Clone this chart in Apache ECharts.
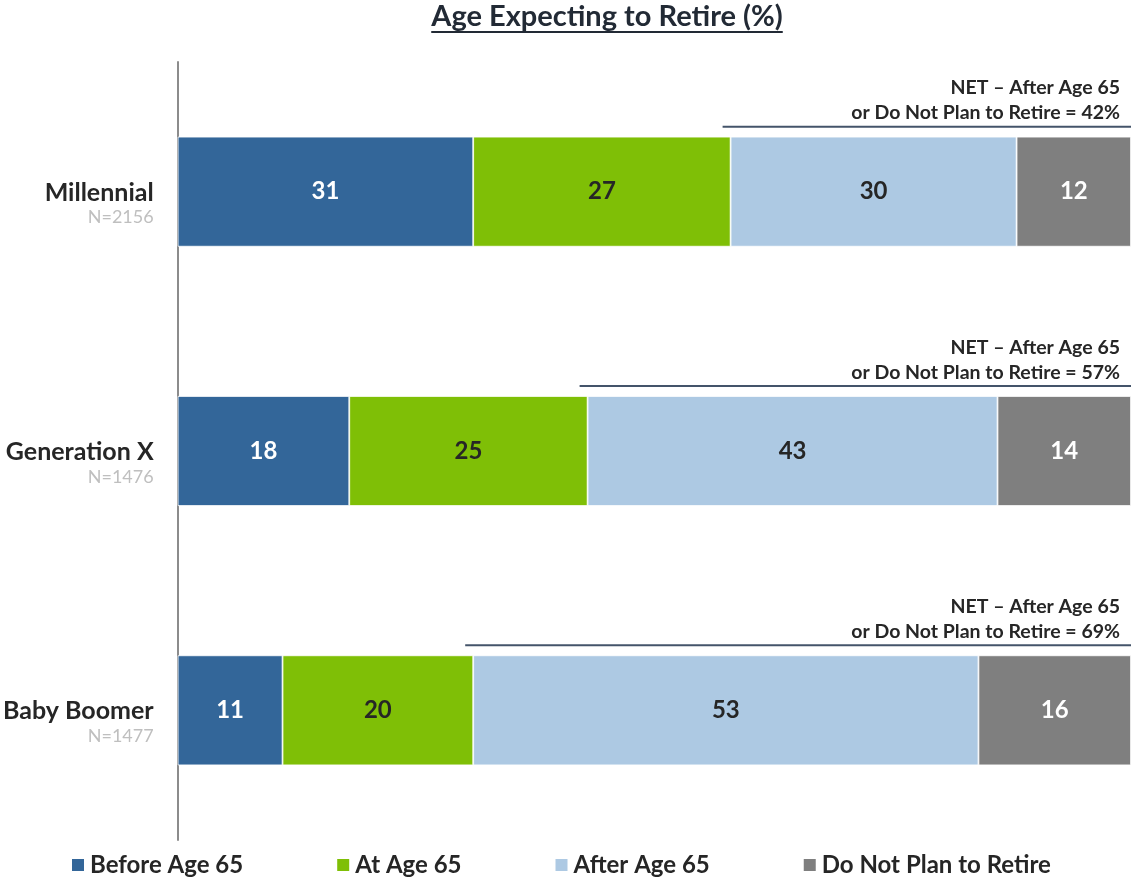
<!DOCTYPE html>
<html>
<head>
<meta charset="utf-8">
<script src="https://cdn.jsdelivr.net/npm/echarts@6/dist/echarts.min.js"></script>
<style>
  html, body { margin: 0; padding: 0; background: #fff; }
  #main { width: 1133px; height: 879px; }
</style>
</head>
<body>
<div id="main"></div>
<script>
// generations, top to bottom
const generations = ['Millennial', 'Generation X', 'Baby Boomer'];
const sampleSizes = ['N=2156', 'N=1476', 'N=1477'];

const seriesNames = ['Before Age 65', 'At Age 65', 'After Age 65', 'Do Not Plan to Retire'];
const beforeAge65 = [31, 18, 11];
const atAge65 = [27, 25, 20];
const afterAge65 = [30, 43, 53];
const doNotPlan = [12, 14, 16];

// NET bracket: starts where "After Age 65" starts, value shown in text
const netStart = [58, 43, 31];
const netValues = [42, 57, 69];

const colors = ['#336699', '#7fbf06', '#adc9e3', '#7f7f7f'];
const labelColors = ['#ffffff', '#262626', '#262626', '#ffffff'];

const FONT = 'Lato, "Open Sans", sans-serif';
const BAR_W = 110;

const chart = echarts.init(document.getElementById('main'));

// measure the title so the underline fits it
const titleText = 'Age Expecting to Retire (%)';
const cv = document.createElement('canvas').getContext('2d');
cv.font = 'bold 29px ' + FONT;
const titleW = cv.measureText(titleText).width;
const titleCx = 607;

const values = [beforeAge65, atAge65, afterAge65, doNotPlan];
const barSeries = seriesNames.map((name, i) => ({
  name: name,
  type: 'bar',
  stack: 'total',
  barWidth: BAR_W,
  data: values[i],
  itemStyle: { color: colors[i], borderColor: '#ffffff', borderWidth: 0.8 },
  label: {
    show: true,
    position: 'inside',
    color: labelColors[i],
    fontFamily: FONT,
    fontWeight: 'bold',
    fontSize: 24
  }
}));

const netData = generations.map((g, i) => [netStart[i], 100, i, netValues[i]]);

const netSeries = {
  name: 'NET',
  type: 'custom',
  silent: true,
  data: netData,
  encode: { x: [0, 1], y: 2 },
  renderItem: function (params, api) {
    const p1 = api.coord([api.value(0), api.value(2)]);
    const p2 = api.coord([api.value(1), api.value(2)]);
    const y = p1[1] - BAR_W / 2 - 10;
    return {
      type: 'group',
      children: [
        {
          type: 'line',
          shape: { x1: p1[0] - 8, y1: y, x2: p2[0], y2: y },
          style: { stroke: '#44546a', lineWidth: 2 }
        },
        {
          type: 'text',
          x: p2[0] - 11,
          y: y - 1,
          style: {
            text: 'NET – After Age 65\nor Do Not Plan to Retire = ' + api.value(3) + '%',
            align: 'right',
            verticalAlign: 'bottom',
            fill: '#262626',
            font: 'bold 19.5px ' + FONT,
            lineHeight: 25
          }
        }
      ]
    };
  },
  z: 5
};

chart.setOption({
  animation: false,
  textStyle: { fontFamily: FONT },
  grid: { left: 176, right: 2, top: 62, bottom: 39 },
  legend: {
    data: seriesNames,
    top: 848,
    left: 65,
    itemWidth: 14,
    itemHeight: 14,
    itemGap: 92,
    icon: 'rect',
    textStyle: { color: '#262626', fontSize: 24, fontWeight: 'bold', fontFamily: FONT }
  },
  graphic: [
    {
      type: 'text',
      left: titleCx - titleW / 2,
      top: 2,
      style: { text: titleText, font: 'bold 29px ' + FONT, fill: '#222a35' }
    },
    {
      type: 'rect',
      shape: { x: titleCx - titleW / 2, y: 31, width: titleW, height: 2 },
      style: { fill: '#222a35' }
    }
  ],
  xAxis: {
    type: 'value',
    min: 0,
    max: 100,
    show: false
  },
  yAxis: {
    type: 'category',
    data: generations,
    inverse: true,
    axisLine: { show: true, lineStyle: { color: '#8c8c8c', width: 2 } },
    axisTick: { show: false },
    axisLabel: {
      margin: 24,
      align: 'right',
      padding: [24, 0, 0, 0],
      formatter: function (v, idx) {
        return '{g|' + v + '}\n{n|' + sampleSizes[idx] + '}';
      },
      rich: {
        g: { fontSize: 25, fontWeight: 'bold', color: '#262626', fontFamily: FONT, lineHeight: 28, align: 'right' },
        n: { fontSize: 18, color: '#bfbfbf', fontFamily: FONT, lineHeight: 22, align: 'right' }
      }
    }
  },
  series: barSeries.concat([netSeries])
});
</script>
</body>
</html>
